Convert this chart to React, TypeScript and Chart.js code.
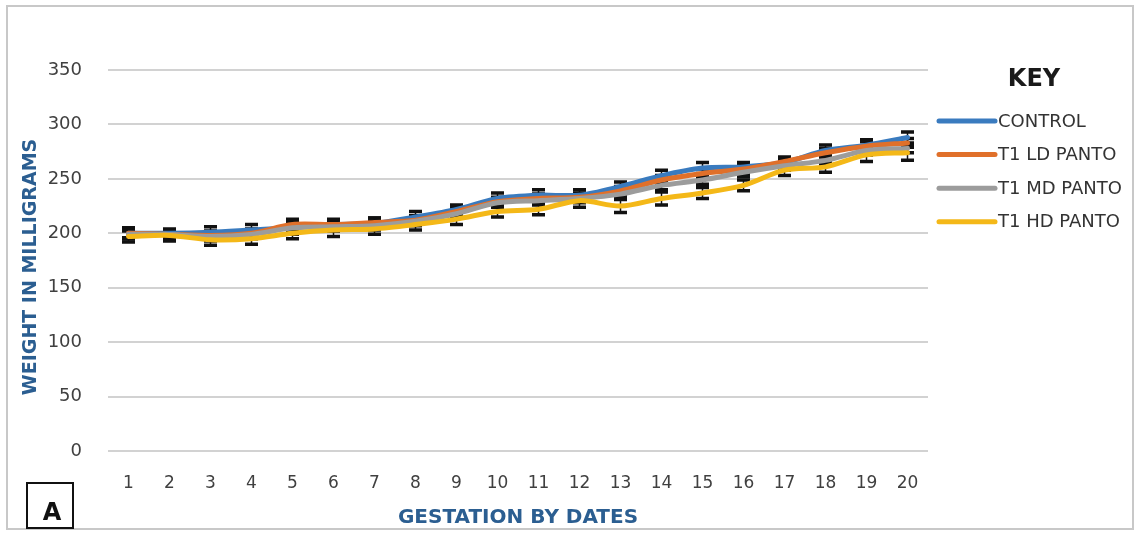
import { useEffect, useRef } from 'react';
import { Chart, registerables } from 'chart.js';

Chart.register(...registerables);

const days = ['1', '2', '3', '4', '5', '6', '7', '8', '9', '10', '11', '12', '13', '14', '15', '16', '17', '18', '19', '20'];
const seriesNames = ['CONTROL', 'T1 LD PANTO', 'T1 MD PANTO', 'T1 HD PANTO'];

const control = [200, 200, 201, 203, 205, 208, 209, 215, 222, 232, 235, 235, 243, 253, 260, 261, 265, 276, 281, 288];
const ldPanto = [200, 199, 198, 200, 208, 208, 210, 212, 220, 229, 232, 233, 239, 249, 255, 259, 266, 274, 280, 283];
const mdPanto = [199, 199, 197, 199, 205, 206, 207, 211, 218, 228, 230, 232, 236, 244, 249, 256, 262, 267, 276, 278];
const hdPanto = [197, 198, 194, 195, 200, 203, 204, 208, 213, 220, 222, 230, 225, 232, 237, 244, 258, 261, 272, 274];

const controlErr = [5, 4, 5, 5, 6, 5, 5, 5, 4, 5, 5, 5, 4, 5, 5, 4, 4, 5, 5, 5];
const ldErr = [4, 4, 4, 4, 5, 4, 4, 4, 4, 4, 4, 4, 4, 4, 4, 4, 4, 4, 4, 4];
const mdErr = [4, 4, 4, 4, 4, 4, 4, 4, 4, 4, 4, 4, 4, 4, 4, 4, 4, 4, 4, 4];
const hdErr = [5, 5, 5, 5, 5, 6, 5, 5, 5, 5, 5, 6, 6, 6, 5, 5, 5, 5, 6, 7];

const yMin = 0;
const yMax = 350;
const yStep = 50;

const FONT = '"DejaVu Sans", "Liberation Sans", sans-serif';

export default function App() {
  const ref = useRef<HTMLCanvasElement>(null);

  useEffect(() => {
    const canvas = ref.current;
    if (!canvas) return;
    const colors = ['#3A7BBF', '#E0702A', '#9C9C9C', '#F4B818'];
    const values = [control, ldPanto, mdPanto, hdPanto];
    const errs = [controlErr, ldErr, mdErr, hdErr];

    const errorBars = {
      id: 'errorBars',
      beforeDatasetsDraw(chart: any) {
        const ctx = chart.ctx;
        const yScale = chart.scales.y;
        ctx.save();
        ctx.strokeStyle = '#111111';
        chart.data.datasets.forEach((ds: any, i: number) => {
          const meta = chart.getDatasetMeta(i);
          const e = errs[i];
          ds.data.forEach((v: number, j: number) => {
            const x = meta.data[j].x;
            const yTop = yScale.getPixelForValue(v + e[j]);
            const yBot = yScale.getPixelForValue(v - e[j]);
            ctx.lineWidth = 1.5;
            ctx.beginPath();
            ctx.moveTo(x, yTop);
            ctx.lineTo(x, yBot);
            ctx.stroke();
            ctx.lineWidth = 3.5;
            ctx.beginPath();
            ctx.moveTo(x - 6.5, yTop);
            ctx.lineTo(x + 6.5, yTop);
            ctx.moveTo(x - 6.5, yBot);
            ctx.lineTo(x + 6.5, yBot);
            ctx.stroke();
          });
        });
        ctx.restore();
      },
    };

    const deco = {
      id: 'deco',
      beforeDraw(chart: any) {
        const ctx = chart.ctx;
        ctx.save();
        ctx.fillStyle = '#ffffff';
        ctx.fillRect(0, 0, chart.width, chart.height);
        ctx.restore();
      },
      afterDraw(chart: any) {
        const ctx = chart.ctx;
        ctx.save();
        // frame
        ctx.strokeStyle = '#C8C8C8';
        ctx.lineWidth = 2;
        ctx.strokeRect(7, 6, 1126, 523);

        // axis titles
        ctx.fillStyle = '#2B5E91';
        ctx.textAlign = 'center';
        ctx.textBaseline = 'middle';
        ctx.font = `bold 20px ${FONT}`;
        ctx.fillText('GESTATION BY DATES', 518, 518);
        ctx.save();
        ctx.translate(31, 267);
        ctx.rotate(-Math.PI / 2);
        ctx.font = `bold 19px ${FONT}`;
        ctx.fillText('WEIGHT IN MILLIGRAMS', 0, 0);
        ctx.restore();

        // legend
        ctx.fillStyle = '#1a1a1a';
        ctx.font = `bold 24px ${FONT}`;
        ctx.fillText('KEY', 1034, 80);
        ctx.textAlign = 'left';
        ctx.font = `18px ${FONT}`;
        chart.data.datasets.forEach((ds: any, i: number) => {
          const y = 121 + i * 33.6;
          ctx.strokeStyle = ds.borderColor;
          ctx.lineWidth = 5;
          ctx.lineCap = 'round';
          ctx.beginPath();
          ctx.moveTo(939, y);
          ctx.lineTo(995, y);
          ctx.stroke();
          ctx.fillStyle = '#333333';
          ctx.fillText(ds.label, 998, y + 1);
        });

        // panel label
        ctx.strokeStyle = '#111111';
        ctx.lineWidth = 2;
        ctx.lineCap = 'butt';
        ctx.strokeRect(27, 483, 46, 45);
        ctx.fillStyle = '#111111';
        ctx.textAlign = 'center';
        ctx.font = `bold 24px ${FONT}`;
        ctx.fillText('A', 52, 514);
        ctx.restore();
      },
    };

    const chart = new Chart(canvas, {
      type: 'line',
      data: {
        labels: days,
        datasets: seriesNames.map((name, i) => ({
          label: name,
          data: values[i],
          borderColor: colors[i],
          backgroundColor: colors[i],
          borderWidth: 5,
          pointRadius: 0,
          tension: 0.3,
          borderCapStyle: 'round',
          borderJoinStyle: 'round',
          fill: false,
          order: 4 - i,
        })),
      },
      options: {
        responsive: false,
        animation: false,
        devicePixelRatio: 1,
        layout: { padding: { left: 0, right: 211, top: 70, bottom: 0 } },
        plugins: { legend: { display: false }, tooltip: { enabled: false } },
        scales: {
          x: {
            type: 'category',
            offset: true,
            grid: { display: false },
            border: { display: false },
            ticks: {
              color: '#404040',
              font: { family: FONT, size: 17 },
              padding: 14,
              maxRotation: 0,
              autoSkip: false,
            },
            afterFit(scale: any) {
              scale.height = 82;
            },
          },
          y: {
            min: yMin,
            max: yMax,
            border: { display: false },
            grid: { color: '#D2D2D2', lineWidth: 2, drawTicks: false },
            ticks: {
              stepSize: yStep,
              color: '#404040',
              font: { family: FONT, size: 18 },
              padding: 26,
            },
            afterFit(scale: any) {
              scale.width = 108;
            },
          },
        },
      },
      plugins: [errorBars, deco],
    } as any);

    return () => chart.destroy();
  }, []);

  return (
    <div style={{ position: 'absolute', left: 0, top: 0, width: 1139, height: 533 }}>
      <canvas ref={ref} width={1139} height={533} style={{ display: 'block' }} />
    </div>
  );
}
